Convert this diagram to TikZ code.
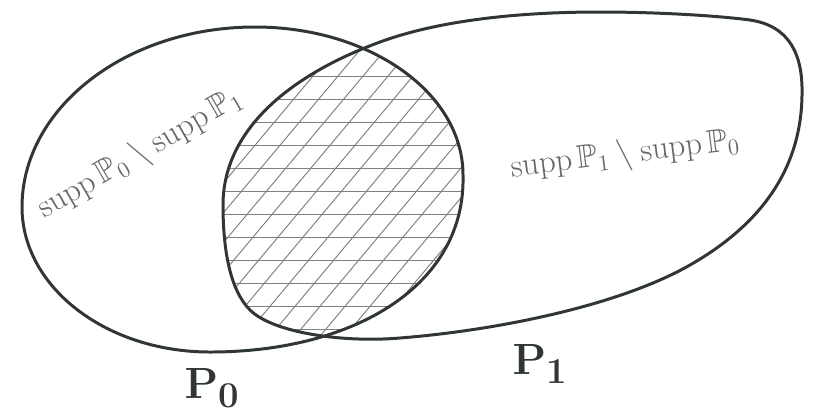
\documentclass[tikz,border=0pt]{standalone}
\usepackage{amsmath,amssymb}
\definecolor{ink}{RGB}{48,54,54}
\def\leftset{(22,207) .. controls (22,108) and (126,27) .. (255,27) .. controls (370,27) and (463,93) .. (463,175) .. controls (466,285) and (355,352) .. (210,352) .. controls (106,352) and (22,287) .. cycle}
\def\rightset{(223,205) .. controls (223,130) and (290,75) .. (380,42) .. controls (440,20) and (520,12) .. (600,12) .. controls (660,12) and (720,16) .. (750,20) .. controls (790,26) and (803,55) .. (802,95) .. controls (801,170) and (760,225) .. (690,265) .. controls (620,305) and (500,330) .. (400,338) .. controls (340,343) and (272,332) .. (250,310) .. controls (230,290) and (223,250) .. cycle}
\begin{document}
\begin{tikzpicture}[x=0.02cm,y=-0.02cm,
  blob/.style={line width=1.7pt,draw=ink,line join=round},
  hatch/.style={line width=0.55pt,draw=black!50},
  pencil/.style={text=black!60,font=\LARGE,scale=1.08},
  marker/.style={text=ink,font=\Huge}]
\useasboundingbox (0,0) rectangle (813,417);
\begin{scope}
\clip \leftset;
\clip \rightset;
\foreach \y in {76,99,...,345} \draw[hatch] (200,\y) -- (480,\y);
\foreach \a in {-100,-75,...,475} \draw[hatch] (\a,360) -- (\a+285,20);
\end{scope}
\draw[blob] \leftset;
\draw[blob] \rightset;
\node[pencil,rotate=30] (onlyzero) at (140,154) {$\mathrm{supp}\,\mathbb{P}_0\setminus\mathrm{supp}\,\mathbb{P}_1$};
\node[pencil,rotate=7] (onlyone) at (625,155) {$\mathrm{supp}\,\mathbb{P}_1\setminus\mathrm{supp}\,\mathbb{P}_0$};
\node[marker] (pzero) at (212,388) {$\mathbf{P}_{\mathbf{0}}$};
\node[marker] (pone) at (540,364) {$\mathbf{P}_{\mathbf{1}}$};
\end{tikzpicture}
\end{document}
